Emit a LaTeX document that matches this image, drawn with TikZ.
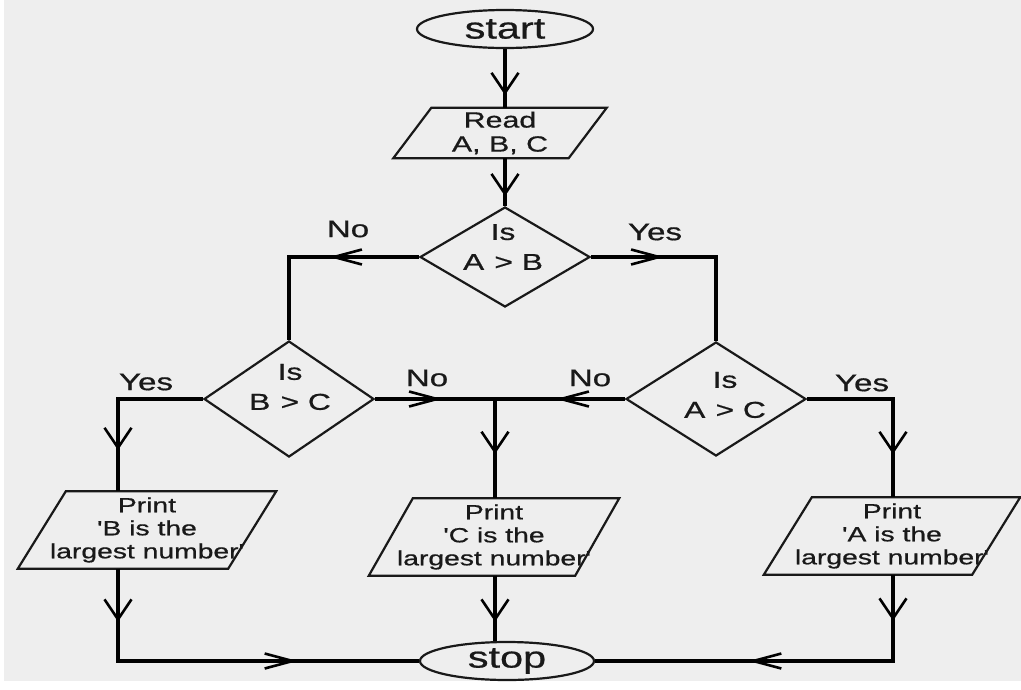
\documentclass[tikz,border=0pt]{standalone}
\usepackage{graphicx}
\usepackage{fontspec}
\setmainfont{Liberation Sans}[FakeBold=0.6]
\usetikzlibrary{shapes.geometric,arrows.meta,decorations.markings}
\newcommand\wx[1]{\scalebox{1.38}[1]{#1}}
\newcommand\paraoutline[2]{\draw[shp] ([xshift=#2]#1.north west) -- ([xshift=#2]#1.north east) -- ([xshift=-#2]#1.south east) -- ([xshift=-#2]#1.south west) -- cycle;}
\definecolor{bg}{RGB}{238,238,238}
\definecolor{ink}{RGB}{25,25,25}
\begin{document}
\begin{tikzpicture}[x=1pt,y=-1pt,
  conn/.style={line width=3.2pt, draw=black},
  shp/.style={line width=2.2pt, draw=ink},
  term/.style={shp, ellipse, minimum width=176pt, minimum height=38pt, inner sep=0pt, font=\fontsize{30}{32}\selectfont, text=ink},
  dia/.style={shp, diamond, inner sep=0pt},
  dtxt/.style={align=center, inner sep=0pt, text=ink, font=\fontsize{23}{30}\selectfont},
  pbox/.style={align=center, inner sep=0pt, text=ink},
  lbl/.style={inner sep=0pt, text=ink, font=\fontsize{24}{26}\selectfont},
  vch/.style={postaction={decorate,decoration={markings,mark=at position #1 with {\arrow{Straight Barb[length=20pt,width=27pt,line width=2.6pt]}}}}},
  hch/.style={postaction={decorate,decoration={markings,mark=at position #1 with {\arrow{Straight Barb[length=28pt,width=15pt,line width=2.6pt]}}}}}
]
\useasboundingbox (0,0) rectangle (1021,689);
\fill[white] (0,0) rectangle (1021,689);
\fill[bg] (4,0) rectangle (1021,681);

% terminals
\node[term] (start) at (505,29) {\wx{start}};
\node[term, minimum width=174pt] (stop) at (507,661) {\wx{stop}};

% input
\node[pbox, minimum width=175pt, minimum height=50pt, font=\fontsize{22}{24}\selectfont] (read) at (500,133) {\wx{Read}\\\wx{A, B, C}};
\paraoutline{read}{19pt}

% decisions
\node[dia, minimum width=170pt, minimum height=100pt] (ab) at (505,257) {};
\node[dtxt] (abt) at (503,247) {\wx{Is}\\\wx{A \kern1pt> B}};
\node[dia, minimum width=170pt, minimum height=116pt] (bc) at (289,399) {};
\node[dtxt] (bct) at (290,387) {\wx{Is}\\\wx{B \kern1pt> C}};
\node[dia, minimum width=180pt, minimum height=114pt] (ac) at (716,399) {};
\node[dtxt] (act) at (725,395) {\wx{Is}\\\wx{A \kern1pt> C}};

% outputs
\node[pbox, minimum width=210pt, minimum height=77pt, font=\fontsize{20.5}{23}\selectfont] (bprint) at (147,530)
  {\wx{Print}\\\wx{\textquotesingle B is the}\\\wx{largest number\textquotesingle}};
\paraoutline{bprint}{24pt}
\node[pbox, minimum width=206pt, minimum height=77pt, font=\fontsize{20.5}{23}\selectfont] (cprint) at (494,537)
  {\wx{Print}\\\wx{\textquotesingle C is the}\\\wx{largest number\textquotesingle}};
\paraoutline{cprint}{22pt}
\node[pbox, minimum width=208pt, minimum height=77pt, font=\fontsize{20.5}{23}\selectfont] (aprint) at (892,536)
  {\wx{Print}\\\wx{\textquotesingle A is the}\\\wx{largest number\textquotesingle}};
\paraoutline{aprint}{24pt}

% column coordinates
\coordinate (bx) at (118,0);
\coordinate (cx) at (495,0);
\coordinate (ax) at (893,0);
\coordinate (j) at (cx |- bc.east);

% connectors
\draw[conn, vch=46pt] (start.south) -- (start.south |- read.north);
\draw[conn, vch=38pt] (ab.north |- read.south) -- (ab.north);
\draw[conn, hch=90pt] (ab.west) -| (bc.north);
\draw[conn, hch=73pt] (ab.east) -| (ac.north);
\draw[conn, vch=136pt] (bc.west) -| (bprint.north -| bx);
\draw[conn, hch=67pt] (bc.east) -- (j);
\draw[conn, hch=69pt] (ac.west) -- (j);
\draw[conn, vch=55pt] (j) -- (j |- cprint.north);
\draw[conn, vch=141pt] (ac.east) -| (aprint.north -| ax);
\draw[conn, vch=53pt, hch=272pt] (bprint.south -| bx) |- (stop.west);
\draw[conn, vch=46pt] (cprint.south -| cx) -- (cx |- stop.north);
\draw[conn, vch=46pt, hch=231pt] (aprint.south -| ax) |- (stop.east);

% labels
\node[lbl] (l1) at (348,229) {\wx{No}};
\node[lbl] (l2) at (655,232) {\wx{Yes}};
\node[lbl] (l3) at (146,382) {\wx{Yes}};
\node[lbl] (l4) at (427,378) {\wx{No}};
\node[lbl] (l5) at (590,378) {\wx{No}};
\node[lbl] (l6) at (862,383) {\wx{Yes}};
\end{tikzpicture}
\end{document}
